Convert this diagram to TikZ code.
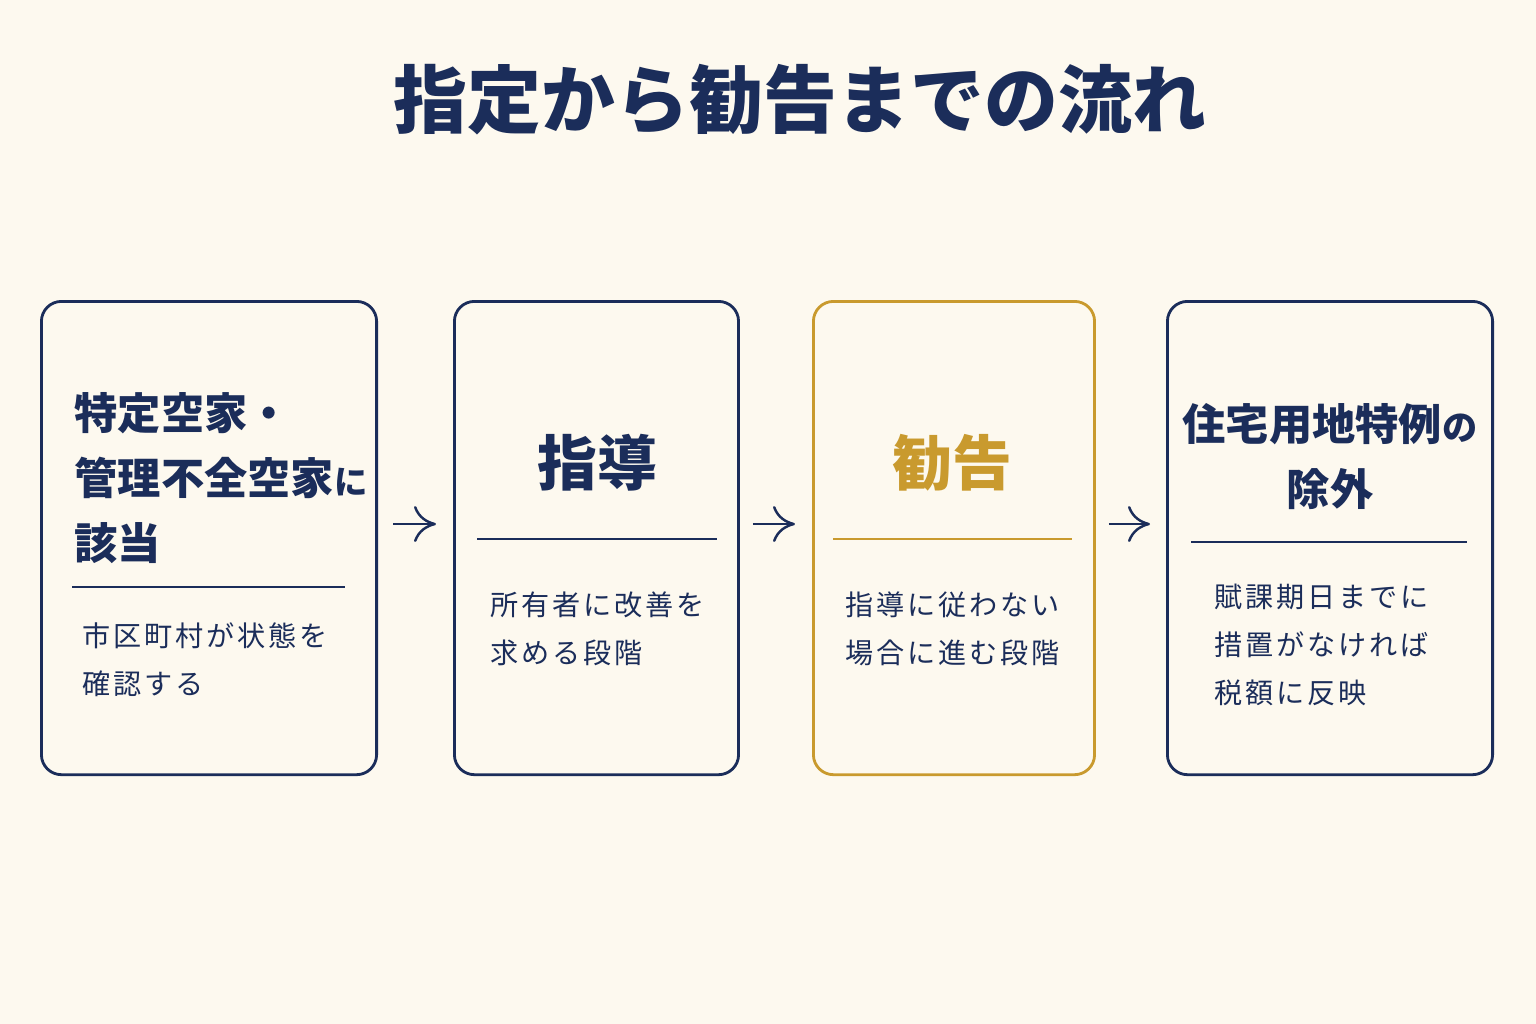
\documentclass[tikz,border=0pt]{standalone}
\usepackage{fontspec}
\newfontfamily\jp{Noto Sans CJK JP}
\newfontfamily\jpbody{Noto Sans CJK JP}[LetterSpace=10]
\usetikzlibrary{positioning,arrows.meta}
\definecolor{navy}{HTML}{1B2D5A}
\definecolor{gold}{HTML}{C99A2E}
\definecolor{paper}{HTML}{FDF9EF}
\tikzset{
  box/.style={draw=navy, line width=0.8pt, rounded corners=0.2cm, anchor=north west, inner sep=0pt},
  head/.style={font=\jp\bfseries\fontsize{12.3}{18.5}\selectfont, text=navy, align=center, inner sep=0pt},
  body/.style={font=\jpbody\fontsize{8}{13.6}\selectfont, text=navy, align=left, anchor=west, inner sep=0pt},
  rule/.style={draw=navy, line width=0.7pt},
  flow/.style={-{To[length=2.2mm,width=3.6mm]}, draw=navy, line width=0.7pt}
}
\begin{document}
\begin{tikzpicture}[x=0.01cm,y=-0.01cm]
\fill[paper] (0,0) rectangle (1536,1024);
\useasboundingbox (0,0) rectangle (1536,1024);
\node[font=\jp\bfseries\fontsize{21}{25}\selectfont, text=navy] (title) at (800,100) {指定から勧告までの流れ};
% boxes
\node[box, minimum width=3.35cm, minimum height=4.73cm] (b1) at (40,300) {};
\node[box, minimum width=2.84cm, minimum height=4.73cm] (b2) at (453,300) {};
\node[box, draw=gold, minimum width=2.81cm, minimum height=4.73cm] (b3) at (812,300) {};
\node[box, minimum width=3.25cm, minimum height=4.73cm] (b4) at (1166,300) {};
% box 1
\node[head, align=left, anchor=west] (h1) at (74,478) {特定空家・\\管理不全空家{\fontsize{9.5}{10}\selectfont に}\\該当};
\draw[rule] (72,587) -- (345,587);
\node[body] (t1) at (82,660) {市区町村が状態を\\確認する};
% box 2
\node[head, font=\jp\bfseries\fontsize{17}{20}\selectfont] (h2) at (597,463) {指導};
\draw[rule] (477,539) -- (717,539);
\node[body] (t2) at (490,629) {所有者に改善を\\求める段階};
% box 3
\node[head, font=\jp\bfseries\fontsize{17}{20}\selectfont, text=gold] (h3) at (952,463) {勧告};
\draw[rule, draw=gold] (833,539) -- (1072,539);
\node[body] (t3) at (845,629) {指導に従わない\\場合に進む段階};
% box 4
\node[head] (h4) at (1330,457) {住宅用地特例{\fontsize{10}{11}\selectfont の}\\除外};
\draw[rule] (1191,542) -- (1467,542);
\node[body] (t4) at (1214,645) {賦課期日までに\\措置がなければ\\税額に反映};
% arrows
\draw[flow, shorten <=0.15cm, shorten >=0.17cm] ([yshift=1.4mm]b1.east) -- ([yshift=1.4mm]b2.west);
\draw[flow, shorten <=0.13cm, shorten >=0.17cm] ([yshift=1.4mm]b2.east) -- ([yshift=1.4mm]b3.west);
\draw[flow, shorten <=0.13cm, shorten >=0.16cm] ([yshift=1.4mm]b3.east) -- ([yshift=1.4mm]b4.west);
\end{tikzpicture}
\end{document}
